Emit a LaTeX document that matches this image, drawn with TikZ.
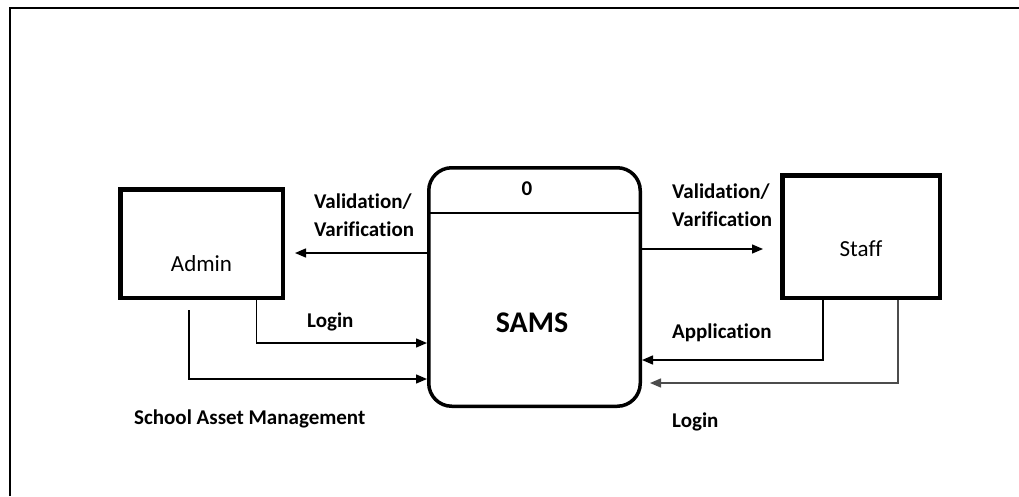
\documentclass[tikz,border=0pt]{standalone}
\usepackage{fontspec}
\setmainfont{Carlito}[Ligatures=NoCommon]
\usetikzlibrary{arrows.meta}
\begin{document}
\begin{tikzpicture}[x=1pt,y=-1pt,
  entity/.style={draw, line width=4.5pt, inner sep=0pt},
  process/.style={draw, line width=3.5pt, rounded corners=23pt, inner sep=0pt,
    minimum width=211.5pt, minimum height=238.5pt},
  flow/.style={-{Triangle[length=11pt,width=9pt]}, line width=1.4pt},
  lbl/.style={font=\bfseries\fontsize{21}{28}\selectfont, inner sep=0pt, align=left},
  enttext/.style={font=\fontsize{23}{28}\selectfont, inner sep=0pt}]
\useasboundingbox (0,0) rectangle (1019,496);

% frame
\draw[line width=2pt, line join=miter] (10,496) -- (10,7.5) -- (1019,7.5);

% external entities and the process
\node[entity, minimum width=162.5pt, minimum height=108.5pt,
  label={[enttext, yshift=-20.5pt]center:Admin}] (admin) at (201.5,243.5) {};
\node[entity, minimum width=157.5pt, minimum height=122.5pt,
  label={[enttext, yshift=-12.5pt]center:Staff}] (staff) at (861,236.5) {};
\node[process, label={[font=\bfseries\fontsize{30}{36}\selectfont, inner sep=0pt,
  xshift=-2.5pt, yshift=-36pt]center:SAMS}] (sams) at (534.5,287) {};
\draw[line width=1.3pt] (sams.west |- 0,213) -- (sams.east |- 0,213);
\node[lbl] (pid) at (527,189) {0};

% data flows, left side
\draw[flow, shorten >=10pt] (sams.west |- 0,253) -- (admin.east |- 0,253);
\draw[flow] ([xshift=55pt]admin.south) |- (sams.west |- 0,343);
\coordinate (sa) at (189,310);
\draw[flow] (sa) |- (sams.west |- 0,379);

% data flows, right side
\draw[flow, shorten >=17pt] (sams.east |- 0,249) -- (staff.west |- 0,249);
\draw[flow] ([xshift=-38pt]staff.south) |- (sams.east |- 0,360);
\draw[flow, black!70, shorten >=8pt] ([xshift=37pt]staff.south) |- (sams.east |- 0,383);

% flow labels
\node[lbl, anchor=west] (vl) at (314,215) {Validation/\\Varification};
\node[lbl, anchor=west] (ll) at (307,322) {Login};
\node[lbl, anchor=west] (sl) at (134,419) {School Asset Management};
\node[lbl, anchor=west] (vr) at (672,205.5) {Validation/\\Varification};
\node[lbl, anchor=west] (al) at (672,333) {Application};
\node[lbl, anchor=west] (lr) at (672,422) {Login};
\end{tikzpicture}
\end{document}
